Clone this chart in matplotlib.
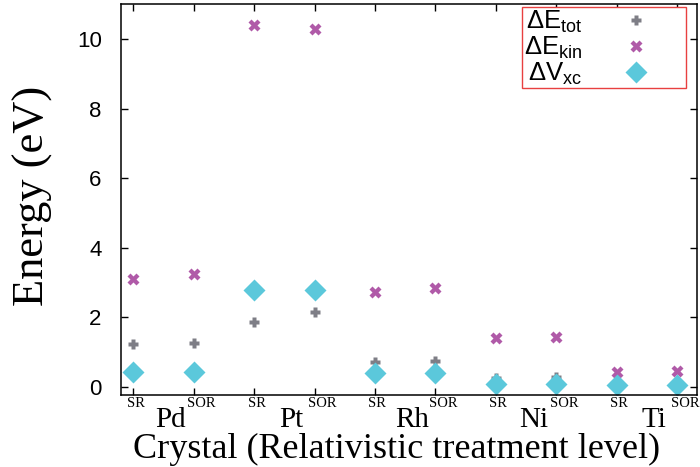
import matplotlib
matplotlib.use("Agg")
import matplotlib.pyplot as plt
import matplotlib.transforms as mtransforms
import numpy as np

crystals = ["Pd", "Pt", "Rh", "Ni", "Ti"]
levels = ["SR", "SOR"]
# one value per (crystal, level), ordered Pd-SR, Pd-SOR, Pt-SR, ...
de_tot = [1.24, 1.28, 1.88, 2.17, 0.71, 0.75, 0.26, 0.29, 0.07, 0.08]
de_kin = [3.10, 3.25, 10.40, 10.29, 2.73, 2.85, 1.41, 1.44, 0.43, 0.46]
dv_xc = [0.44, 0.44, 2.79, 2.80, 0.41, 0.41, 0.10, 0.10, 0.05, 0.05]

plt.rcParams["mathtext.fontset"] = "custom"
plt.rcParams["mathtext.rm"] = "Liberation Sans"
plt.rcParams["mathtext.it"] = "Liberation Sans"

fig = plt.figure(figsize=(7, 4.67), dpi=100)
ax = fig.add_axes([0.173, 0.154, 0.823, 0.837])

x = np.arange(len(de_kin))
ax.plot(x, de_tot, linestyle="none", marker="P", ms=7, color="#7e7e86",
        mec="none", label=r"$\mathrm{\Delta E_{tot}}$")
ax.plot(x, de_kin, linestyle="none", marker="X", ms=9, color="#b05aa8",
        mec="none", label=r"$\mathrm{\Delta E_{kin}}$")
ax.plot(x, dv_xc, linestyle="none", marker="D", ms=11, color="#5bc8db",
        mec="none", label=r"$\mathrm{\Delta V_{xc}}$")

ax.set_xlim(-0.2, 9.33)
ax.set_ylim(-0.23, 11)
ax.set_xticks(x)
ax.set_xticklabels([])
ax.set_yticks(np.arange(0, 11, 2))
ax.tick_params(direction="in", top=True, right=True, length=5, width=1,
               labelsize=16, pad=14)
for lab in ax.get_yticklabels():
    lab.set_family("Liberation Sans")
for sp in ax.spines.values():
    sp.set_linewidth(1.1)

trans = mtransforms.blended_transform_factory(ax.transData, ax.transAxes)
serif = "Liberation Serif"
for i, name in enumerate(crystals):
    xs = 2 * i
    ax.text(xs + 0.04, -0.022, levels[0], transform=trans, ha="center",
            va="center", fontsize=10.5, family=serif)
    ax.text(xs + 1.13, -0.022, levels[1], transform=trans, ha="center",
            va="center", fontsize=10.5, family=serif)
    ax.text(xs + 0.62, -0.063, name, transform=trans, ha="center",
            va="center", fontsize=21, family=serif)

ax.text(0.478, -0.16, "Crystal (Relativistic treatment level)",
        transform=ax.transAxes, ha="center", va="baseline", fontsize=26,
        family=serif)
ax.text(-0.135, 0.51, "Energy (eV)", transform=ax.transAxes, rotation=90,
        rotation_mode="anchor", ha="center", va="baseline", fontsize=32,
        family=serif)

leg = ax.legend(loc="upper right", bbox_to_anchor=(0.981, 0.992),
                borderaxespad=0, markerfirst=False, fancybox=False,
                edgecolor="#e84040", framealpha=1, fontsize=18.5,
                handletextpad=0.2, labelspacing=0.0, borderpad=0.05,
                handlelength=3.8)
leg.get_frame().set_linewidth(1.0)

fig.savefig("out.png", dpi=100)
